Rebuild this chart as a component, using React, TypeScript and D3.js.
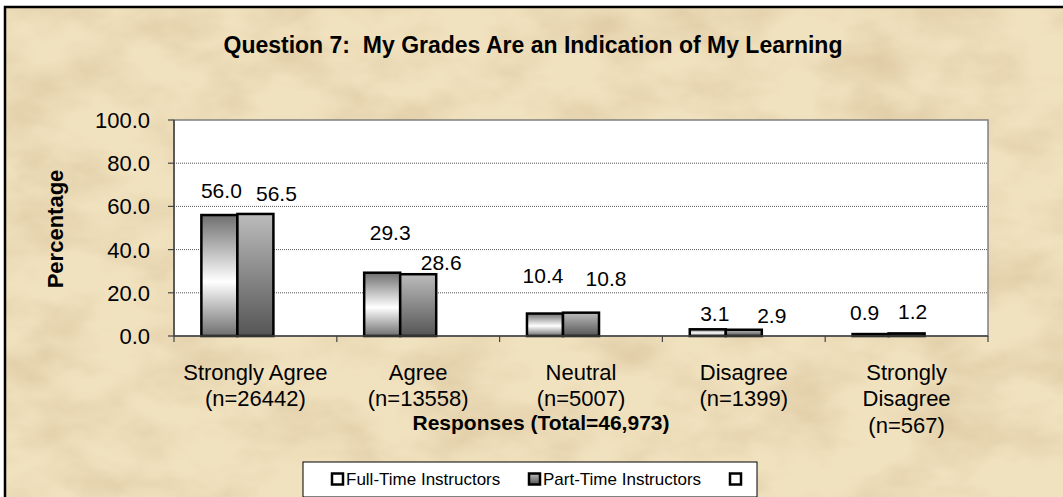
import * as d3 from "d3";
import React from "react";

const categories = ["Strongly Agree", "Agree", "Neutral", "Disagree", "Strongly Disagree"];
const counts = [26442, 13558, 5007, 1399, 567];
const fullTime = [56.0, 29.3, 10.4, 3.1, 0.9];
const partTime = [56.5, 28.6, 10.8, 2.9, 1.2];
const yTicks = [0, 20, 40, 60, 80, 100];
const seriesNames = ["Full-Time Instructors", "Part-Time Instructors", ""];

// where Excel dropped each data label, relative to the top centre of its bar
const ftNudge = [[2, -25], [8, -40], [-2, -38], [7, -16], [-6, -22]];
const ptNudge = [[21, -21], [23, -12], [25, -34], [28, -14], [6, -22]];

const FONT = "'Liberation Sans', Arial, sans-serif";

const W = 1063;
const H = 497;
const plot = { left: 174, right: 988, top: 120, bottom: 336 };

// label wrapping as in the original (long label breaks over two lines)
const wrapLabel = (c: string) => (c === "Strongly Disagree" ? ["Strongly", "Disagree"] : [c]);

export default function App() {
  const x = d3.scaleBand<string>().domain(categories).range([plot.left, plot.right]);
  const inner = d3
    .scaleBand<string>()
    .domain(["ft", "pt", "empty"])
    .range([0, x.bandwidth()])
    .paddingInner(0)
    .paddingOuter(0.76);
  const y = d3.scaleLinear().domain([0, 100]).range([plot.bottom, plot.top]);
  const bw = inner.bandwidth();

  const series = [
    { key: "ft", values: fullTime, fill: "url(#gradFT)", nudge: ftNudge },
    { key: "pt", values: partTime, fill: "url(#gradPT)", nudge: ptNudge },
  ];

  const boundaries = categories.map((c) => x(c) as number).concat([plot.right]);

  return (
    <svg width={W} height={H} style={{ position: "absolute", left: 0, top: 0 }} fontFamily={FONT}>
      <defs>
        <linearGradient id="gradFT" x1="0" y1="0" x2="0" y2="1">
          <stop offset="0%" stopColor="#6f6f6f" />
          <stop offset="55%" stopColor="#ffffff" />
          <stop offset="100%" stopColor="#6f6f6f" />
        </linearGradient>
        <linearGradient id="gradPT" x1="0" y1="0" x2="0" y2="1">
          <stop offset="0%" stopColor="#bcbcbc" />
          <stop offset="100%" stopColor="#555555" />
        </linearGradient>
        <filter id="paper" x="0" y="0" width="1" height="1">
          <feTurbulence type="fractalNoise" baseFrequency="0.012 0.02" numOctaves="4" seed="7" />
          <feColorMatrix
            type="matrix"
            values="0 0 0 0 0.72  0 0 0 0 0.58  0 0 0 0 0.36  1.6 0 0 0 -0.6"
          />
        </filter>
      </defs>

      <rect x={0} y={0} width={W} height={H} fill="#ffffff" />
      <rect x={5} y={7} width={W} height={H} fill="#f1e2bf" />
      <rect x={5} y={7} width={W} height={H} fill="#000" filter="url(#paper)" />
      <rect x={5} y={7} width={W + 10} height={H + 10} fill="none" stroke="#000" strokeWidth={2.5} />

      {/* title */}
      <text x={533} y={53} textAnchor="middle" fontWeight="bold" fontSize={23}>
        Question 7:{"\u00a0\u00a0"}My Grades Are an Indication of My Learning
      </text>

      {/* plot area */}
      <rect
        x={plot.left}
        y={plot.top}
        width={plot.right - plot.left}
        height={plot.bottom - plot.top}
        fill="#ffffff"
        stroke="#808080"
        strokeWidth={1.5}
      />
      {yTicks
        .filter((t) => t > 0 && t < 100)
        .map((t) => (
          <line
            key={t}
            x1={plot.left}
            x2={plot.right}
            y1={y(t)}
            y2={y(t)}
            stroke="#555"
            strokeWidth={1}
            strokeDasharray="1,1"
          />
        ))}

      {/* y axis */}
      <line x1={plot.left} x2={plot.left} y1={plot.top} y2={plot.bottom} stroke="#444" strokeWidth={1.5} />
      {yTicks.map((t) => (
        <g key={t}>
          <line x1={plot.left - 6} x2={plot.left} y1={y(t)} y2={y(t)} stroke="#444" strokeWidth={1.2} />
          <text x={150} y={y(t)} dy="0.36em" textAnchor="end" fontSize={22}>
            {t.toFixed(1)}
          </text>
        </g>
      ))}
      <text
        transform={`translate(63,229) rotate(-90)`}
        textAnchor="middle"
        fontWeight="bold"
        fontSize={22}
      >
        Percentage
      </text>

      {/* bars */}
      {series.map((s) =>
        categories.map((c, i) => {
          const bx = (x(c) as number) + (inner(s.key) as number);
          const by = y(s.values[i]);
          return (
            <rect
              key={s.key + c}
              x={bx}
              y={by}
              width={bw}
              height={plot.bottom - by}
              fill={s.fill}
              stroke="#000"
              strokeWidth={2.5}
            />
          );
        })
      )}

      {/* x axis */}
      <line x1={plot.left} x2={plot.right} y1={plot.bottom} y2={plot.bottom} stroke="#444" strokeWidth={1.5} />
      {boundaries.map((b, i) => (
        <line key={i} x1={b} x2={b} y1={plot.bottom} y2={plot.bottom + 6} stroke="#444" strokeWidth={1.2} />
      ))}

      {/* data labels */}
      {series.map((s) =>
        categories.map((c, i) => {
          const cx = (x(c) as number) + (inner(s.key) as number) + bw / 2;
          const cy = y(s.values[i]);
          return (
            <text
              key={"l" + s.key + c}
              x={cx + s.nudge[i][0]}
              y={cy + s.nudge[i][1]}
              dy="0.36em"
              textAnchor="middle"
              fontSize={21}
            >
              {s.values[i].toFixed(1)}
            </text>
          );
        })
      )}

      {/* category labels */}
      {categories.map((c, i) => {
        const lines = wrapLabel(c).concat([`(n=${counts[i]})`]);
        const cx = (x(c) as number) + x.bandwidth() / 2;
        return (
          <text key={"c" + c} textAnchor="middle" fontSize={22}>
            {lines.map((ln, j) => (
              <tspan key={j} x={cx} y={372 + j * 26.5} dy="0.36em">
                {ln}
              </tspan>
            ))}
          </text>
        );
      })}
      <text x={541} y={422} dy="0.36em" textAnchor="middle" fontWeight="bold" fontSize={21}>
        Responses (Total=46,973)
      </text>

      {/* legend */}
      <rect x={303} y={462} width={454} height={35} fill="#ffffff" stroke="#000" strokeWidth={1} />
      {seriesNames.map((name, i) => {
        const mx = [332, 529, 730][i];
        return (
          <g key={"lg" + i}>
            <rect
              x={mx}
              y={473.5}
              width={11}
              height={11}
              fill={i === 1 ? "url(#gradPT)" : "#ffffff"}
              stroke="#000"
              strokeWidth={2.5}
            />
            <text x={mx + 14} y={479} dy="0.36em" fontSize={17}>
              {name}
            </text>
          </g>
        );
      })}
    </svg>
  );
}
